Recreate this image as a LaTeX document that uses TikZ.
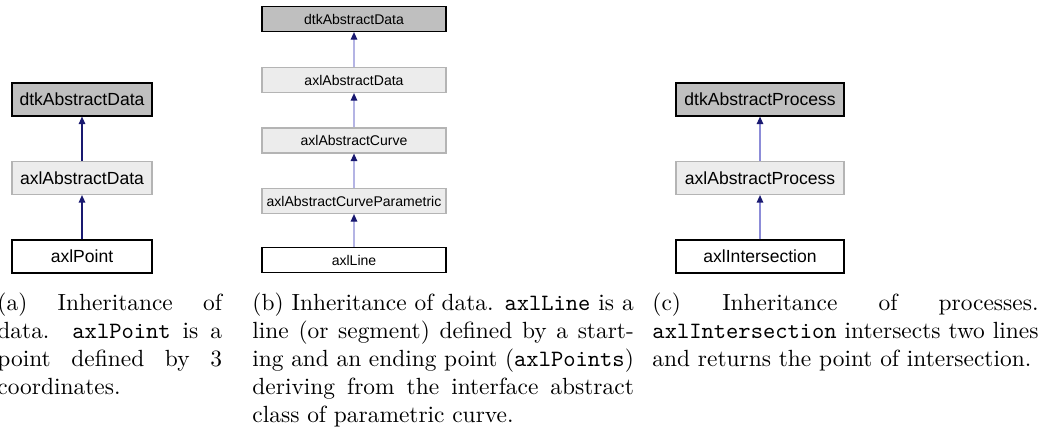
\documentclass[tikz,border=0pt]{standalone}
\usepackage{fontspec}
\newfontfamily\doxfont{Liberation Sans}
\usetikzlibrary{arrows.meta}
\definecolor{topfill}{HTML}{BFBFBF}
\definecolor{midfill}{HTML}{ECECEC}
\definecolor{midline}{HTML}{B4B4B4}
\definecolor{edgedark}{HTML}{191970}
\definecolor{edgeb}{HTML}{B4B4E4}
\definecolor{edgec}{HTML}{8C8CD8}
\tikzset{
  boxa/.style={draw, line width=0.5pt, inner sep=0pt, font=\doxfont\fontsize{7.5}{9}\selectfont,
     minimum width=59.8pt, minimum height=14.1pt},
  boxb/.style={draw, line width=0.5pt, inner sep=0pt, font=\doxfont\fontsize{6}{7}\selectfont,
     minimum width=78.6pt, minimum height=10.7pt},
  boxc/.style={boxa, minimum width=71.8pt},
  topbox/.style={fill=topfill, draw=black},
  midbox/.style={fill=midfill, draw=midline},
  leafbox/.style={fill=white, draw=black},
  inh/.style={line width=0.5pt, -{Triangle[length=3.2pt,width=2.8pt,color=edgedark]}},
  captext/.style={anchor=base west, inner sep=0pt, align=justify,
     font=\fontsize{10}{12}\selectfont},
}
\begin{document}
\begin{tikzpicture}[x=0.4274pt, y=-0.4274pt]
\useasboundingbox (0,0) rectangle (1052,431);
% (a)
\node[boxa, topbox] (a1) at (82,99.5) {dtkAbstractData};
\node[boxa, midbox] (a2) at (82,178) {axlAbstractData};
\node[boxa, leafbox] (a3) at (82,256.5) {axlPoint};
\draw[inh, edgedark] (a2) -- (a1);
\draw[inh, edgedark] (a3) -- (a2);
% (b)
\node[boxb, topbox] (b1) at (354,19) {dtkAbstractData};
\node[boxb, midbox] (b2) at (354,80) {axlAbstractData};
\node[boxb, midbox] (b3) at (354,140.5) {axlAbstractCurve};
\node[boxb, midbox] (b4) at (354,201) {axlAbstractCurveParametric};
\node[boxb, leafbox] (b5) at (354,260) {axlLine};
\draw[inh, edgeb] (b2) -- (b1);
\draw[inh, edgeb] (b3) -- (b2);
\draw[inh, edgeb] (b4) -- (b3);
\draw[inh, edgeb] (b5) -- (b4);
% (c)
\node[boxc, topbox] (c1) at (760,99.5) {dtkAbstractProcess};
\node[boxc, midbox] (c2) at (760,178) {axlAbstractProcess};
\node[boxc, leafbox] (c3) at (760,256.5) {axlIntersection};
\draw[inh, edgec] (c2) -- (c1);
\draw[inh, edgec] (c3) -- (c2);
% captions
\node[captext, text width=96pt] (capa) at (-3,310) {(a) Inheritance of data. \texttt{axlPoint} is a point defined by 3 coordinates.};
\node[captext, text width=163pt] (capb) at (252,310) {(b) Inheritance of data. \texttt{axlLine} is a line (or segment) defined by a starting and an ending point (\texttt{axlPoints}) deriving from the interface abstract class of parametric curve.};
\node[captext, text width=165pt] (capc) at (652,310) {\hbadness=10000 \hfuzz=5pt (c) Inheritance of processes.\linebreak \texttt{axlIntersection} intersects two lines\linebreak and returns the point of intersection.};
\end{tikzpicture}
\end{document}
